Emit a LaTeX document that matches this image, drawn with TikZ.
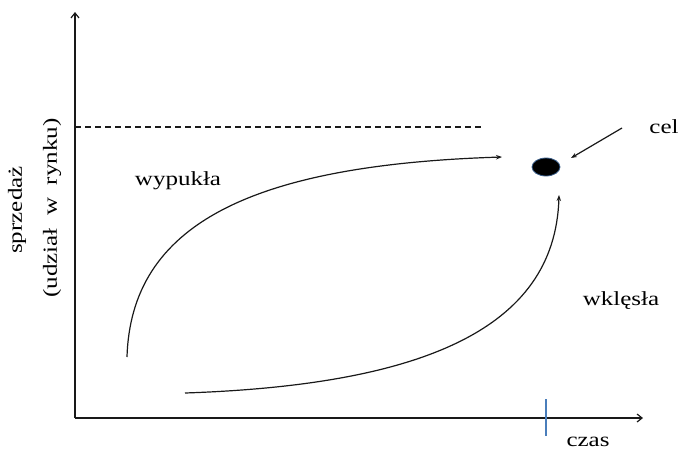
\documentclass[tikz,border=0pt]{standalone}
\usepackage{fontspec}
\setmainfont{Liberation Serif}
\usetikzlibrary{arrows.meta,shapes.geometric}
\newcommand{\wtxt}[1]{\scalebox{1.25}[1]{#1}}
\begin{document}
\begin{tikzpicture}[x=1pt,y=-1pt,
  axis/.style={draw=black!90,line width=1.2pt,-{Straight Barb[length=5pt,width=8pt]}},
  curve/.style={draw=black!90,line width=1.2pt,-{Stealth[length=6pt,width=4.5pt]}},
  lbl/.style={font=\fontsize{20}{23}\selectfont,inner sep=0pt,text=black}]
\useasboundingbox (0,0) rectangle (682,453);
\fill[white] (0,0) rectangle (682,453);
% axes
\coordinate (O) at (75,418);
\coordinate (ytop) at (75,12);
\coordinate (xend) at (643,418);
\draw[axis] (O) -- (ytop);
\draw[axis] (O) -- (xend);
% dashed target level
\coordinate (d1) at (75,127);
\coordinate (d2) at (483,127);
\draw[black!90,line width=1.1pt,dash pattern=on 6pt off 4pt] (d1) -- (d2);
% tick
\coordinate (t1) at (546,399);
\coordinate (t2) at (546,436);
\draw[color={rgb,255:red,74;green,126;blue,187},line width=1.2pt] (t1) -- (t2);
% goal dot
\node[draw={rgb,255:red,56;green,93;blue,138},fill=black,ellipse,minimum width=28pt,minimum height=18pt,inner sep=0pt,line width=0.8pt] (dot) at (546,167) {};
% labels
\node[lbl] (cel) at (664,127) {\wtxt{cel}};
\node[lbl] (czas) at (588,442) {\wtxt{czas}};
\node[lbl] (wyp) at (178,181) {\wtxt{wypukła}};
\node[lbl] (wkl) at (621,301) {\wtxt{wklęsła}};
\node[lbl,rotate=90] (sp) at (17,210) {\wtxt{sprzedaż}};
\node[lbl,rotate=90] (ud) at (52,208) {\wtxt{(udział\ \ w\ \ rynku)}};
% arrow from cel
\coordinate (ca) at (622,128);
\coordinate (ct) at (571,158);
\draw[curve] (ca) -- (ct);
% curves
\coordinate (c1s) at (127,357);
\coordinate (c1e) at (502,157);
\draw[curve] (c1s) .. controls (131,225) and (250,165) .. (c1e);
\coordinate (c2s) at (185,393);
\coordinate (c2e) at (559,195);
\draw[curve] (c2s) .. controls (420,385) and (555,330) .. (c2e);
\end{tikzpicture}
\end{document}
